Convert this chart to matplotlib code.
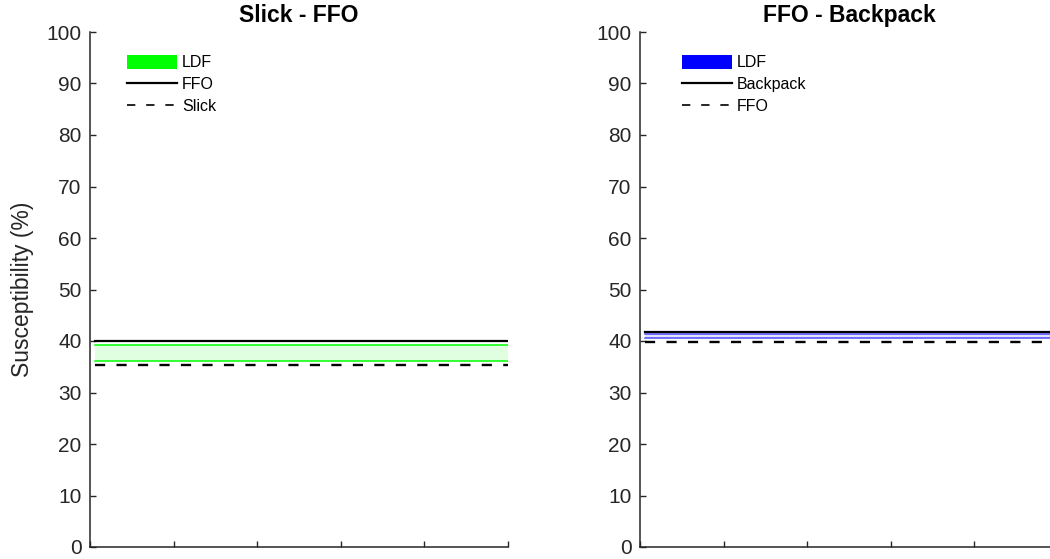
import matplotlib
matplotlib.use("Agg")
import matplotlib.pyplot as plt
from matplotlib.patches import Patch
from matplotlib.lines import Line2D

plt.rcParams["font.family"] = ["Liberation Sans", "DejaVu Sans"]

# Data (susceptibility, %)
titles = ["Slick - FFO", "FFO - Backpack"]
x_span = [0.06, 5.0]
ldf_low = [36.1, 40.6]
ldf_high = [39.2, 41.4]
solid_vals = [40.0, 41.8]
dashed_vals = [35.4, 39.9]
solid_names = ["FFO", "Backpack"]
dashed_names = ["Slick", "FFO"]
band_colors = ["#00ff00", "#0000ff"]
band_fill = ["#e0ffe0", "#e0e0ff"]
edge_colors = ["#00ff00", "#4a4aff"]
yticks = list(range(0, 101, 10))
xticks = [0, 1, 2, 3, 4, 5]

W, H = 1050, 559
fig = plt.figure(figsize=(W / 100, H / 100), dpi=100)
ax_left = [90, 640]
ax_w, ax_bottom, ax_top = 418, 547, 32
leg_x = [37, 42]
dark = "#262626"

for i in range(2):
    ax = fig.add_axes([ax_left[i] / W, (H - ax_bottom) / H,
                       ax_w / W, (ax_bottom - ax_top) / H])
    ax.fill_between(x_span, [ldf_low[i]] * 2, [ldf_high[i]] * 2,
                    color=band_fill[i], lw=0)
    ax.plot(x_span, [ldf_low[i]] * 2, color=edge_colors[i], lw=1.1)
    ax.plot(x_span, [ldf_high[i]] * 2, color=edge_colors[i], lw=1.1)
    ax.plot(x_span, [solid_vals[i]] * 2, color="black", lw=1.6)
    ax.plot(x_span, [dashed_vals[i]] * 2, color="black", lw=1.7,
            dashes=(4.3, 4.8))

    ax.set_xlim(0, 5)
    ax.set_ylim(0, 100)
    ax.set_xticks(xticks)
    ax.set_xticklabels([])
    ax.set_yticks(yticks)
    ax.tick_params(direction="in", length=4, width=1, colors=dark,
                   labelsize=15, pad=6)
    for s in ["top", "right"]:
        ax.spines[s].set_visible(False)
    for s in ["left", "bottom"]:
        ax.spines[s].set_color(dark)
        ax.spines[s].set_linewidth(1.1)
    ax.set_title(titles[i], fontsize=16.5, fontweight="bold", pad=7)
    if i == 0:
        ax.set_ylabel("Susceptibility (%)", fontsize=16.5, color=dark,
                      labelpad=9)

    handles = [Patch(facecolor=band_colors[i], edgecolor="none"),
               Line2D([], [], color="black", lw=1.6),
               Line2D([], [], color="black", lw=1.2, dashes=(5, 6.5))]
    ax.legend(handles, ["LDF", solid_names[i], dashed_names[i]],
              loc="upper left",
              bbox_to_anchor=(leg_x[i] / ax_w, 1 - 23 / 515),
              frameon=False, fontsize=11.5, handlelength=3.1,
              handleheight=0.95, handletextpad=0.35, labelspacing=0.4,
              borderpad=0, borderaxespad=0)

fig.savefig("out.png", dpi=100)
